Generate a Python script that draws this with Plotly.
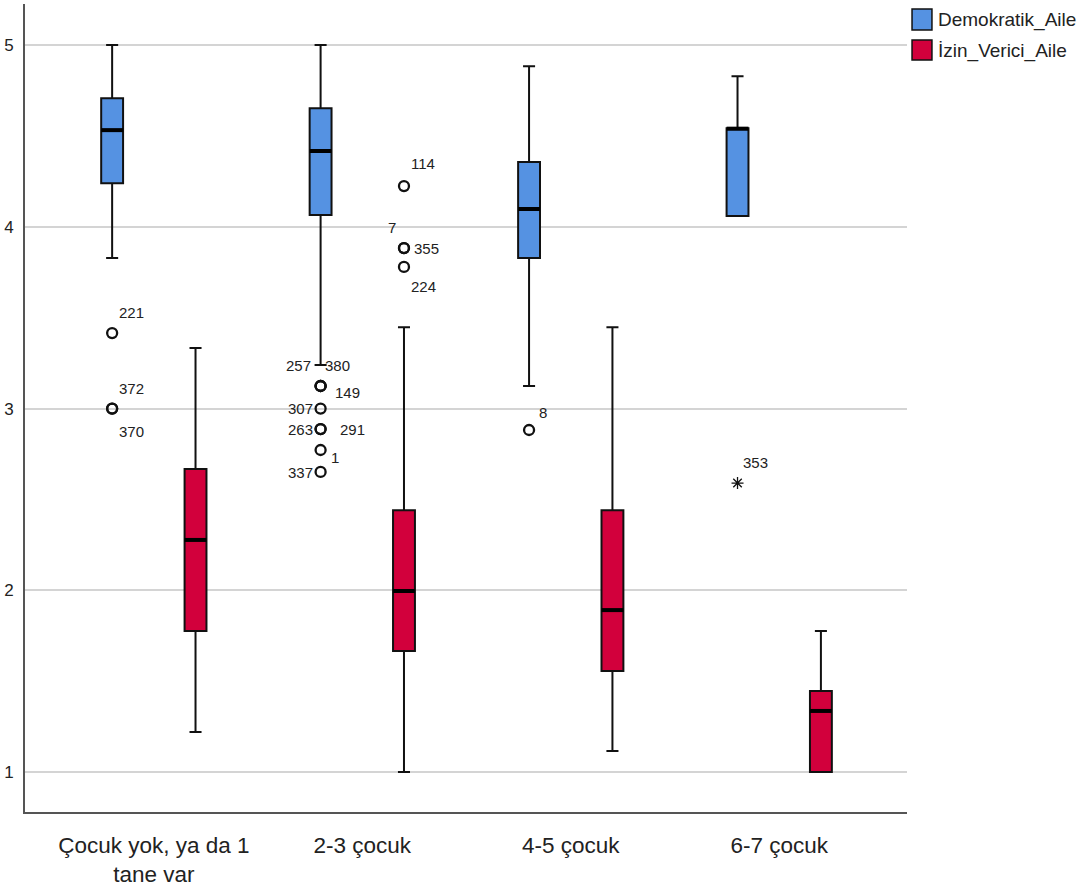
import plotly.graph_objects as go

# ---------------- data ----------------
categories = ["Çocuk yok, ya da 1 tane var", "2-3 çocuk", "4-5 çocuk", "6-7 çocuk"]
tick_labels = ["Çocuk yok, ya da 1<br>tane var", "2-3 çocuk", "4-5 çocuk", "6-7 çocuk"]
series_names = ["Demokratik_Aile", "İzin_Verici_Aile"]

demo_lower = [3.828, 3.239, 3.124, 4.059]
demo_q1 = [4.240, 4.065, 3.828, 4.059]
demo_median = [4.532, 4.417, 4.098, 4.540]
demo_q3 = [4.708, 4.653, 4.356, 4.543]
demo_upper = [5.000, 5.000, 4.884, 4.829]

izin_lower = [1.220, 1.000, 1.116, 1.000]
izin_q1 = [1.776, 1.666, 1.556, 1.000]
izin_median = [2.277, 1.996, 1.891, 1.336]
izin_q3 = [2.667, 2.441, 2.441, 1.446]
izin_upper = [3.333, 3.448, 3.448, 1.776]

# outlier cases (category index, value, case id, kind: o = outlier, * = extreme)
demo_out_cat = [0, 0, 0, 1, 1, 1, 1, 1, 1, 1, 1, 2, 3]
demo_out_val = [3.415, 3.0, 3.0, 3.124, 3.124, 3.124, 3.0, 2.887, 2.887, 2.772, 2.651, 2.882, 2.590]
demo_out_id = ["221", "372", "370", "257", "380", "149", "307", "263", "291", "1", "337", "8", "353"]
demo_out_kind = ["o", "o", "o", "o", "o", "o", "o", "o", "o", "o", "o", "o", "*"]

izin_out_cat = [1, 1, 1, 1]
izin_out_val = [4.224, 3.883, 3.883, 3.779]
izin_out_id = ["114", "7", "355", "224"]
izin_out_kind = ["o", "o", "o", "o"]

# ---------------- style ----------------
FONT = "Liberation Sans, Arial, sans-serif"
colors = ["#5592E2", "#D2003C"]
offsets = [-0.2, 0.2]
BOX_W = 0.105

# label placement (anchor, x shift px, y shift px) per case
demo_lbl_style = [("left", 5, 21), ("left", 5, 20), ("left", 5, -23),
                  ("right", -8, 21), ("left", 2, 21), ("left", 12, -6),
                  ("right", -6, 0), ("right", -6, 0), ("left", 17, 0),
                  ("left", 8, -8), ("right", -6, -1), ("left", 8, 17),
                  ("left", 3, 21)]
izin_lbl_style = [("left", 5, 23), ("right", -6, 21), ("left", 8, 0), ("left", 5, -20)]

series = [
    dict(lower=demo_lower, q1=demo_q1, med=demo_median, q3=demo_q3, upper=demo_upper,
         oc=demo_out_cat, ov=demo_out_val, oid=demo_out_id, ok=demo_out_kind, ls=demo_lbl_style),
    dict(lower=izin_lower, q1=izin_q1, med=izin_median, q3=izin_q3, upper=izin_upper,
         oc=izin_out_cat, ov=izin_out_val, oid=izin_out_id, ok=izin_out_kind, ls=izin_lbl_style),
]

fig = go.Figure()
annotations = []

for s_i, (name, s) in enumerate(zip(series_names, series)):
    xs = [i + offsets[s_i] for i in range(len(categories))]
    fig.add_trace(go.Box(
        x=xs, q1=s["q1"], median=s["med"], q3=s["q3"],
        lowerfence=s["lower"], upperfence=s["upper"],
        name=name, width=BOX_W, whiskerwidth=0.55,
        fillcolor=colors[s_i], line=dict(color="#111111", width=2),
        boxpoints=False, showlegend=False, hoverinfo="skip",
    ))
    # thick median bars
    mx, my = [], []
    for x, m in zip(xs, s["med"]):
        mx += [x - BOX_W / 2, x + BOX_W / 2, None]
        my += [m, m, None]
    fig.add_trace(go.Scatter(x=mx, y=my, mode="lines",
                             line=dict(color="#000000", width=4),
                             showlegend=False, hoverinfo="skip"))
    # outliers
    ox = [c + offsets[s_i] for c in s["oc"]]
    symbols = ["circle" if k == "o" else "asterisk-open" for k in s["ok"]]
    sizes = [10 if k == "o" else 10 for k in s["ok"]]
    mcolors = ["rgba(0,0,0,0)" if k == "o" else "#111111" for k in s["ok"]]
    lwidths = [2.3 if k == "o" else 1.3 for k in s["ok"]]
    fig.add_trace(go.Scatter(
        x=ox, y=s["ov"], mode="markers",
        marker=dict(symbol=symbols, size=sizes, color=mcolors, opacity=1,
                    line=dict(color="#111111", width=lwidths)),
        showlegend=False, hoverinfo="skip"))
    for x, v, lab, (anc, dx, dy) in zip(ox, s["ov"], s["oid"], s["ls"]):
        annotations.append(dict(x=x, y=v, xref="x", yref="y", text=lab,
                                showarrow=False, xanchor=anc, yanchor="middle",
                                xshift=dx, yshift=dy,
                                font=dict(family=FONT, size=15, color="#222222")))

# legend (drawn manually to match the reference swatches)
shapes = []
leg_y = [(0.9938, 0.9678, 0.9808), (0.9554, 0.9307, 0.9420)]
for s_i, name in enumerate(series_names):
    y0, y1, yt = leg_y[s_i]
    shapes.append(dict(type="rect", xref="paper", yref="paper",
                       x0=1.0057, x1=1.0283, y0=y1, y1=y0,
                       fillcolor=colors[s_i], line=dict(color="#111111", width=1.5)))
    annotations.append(dict(x=1.033, y=yt, xref="paper", yref="paper", text=name,
                            showarrow=False, xanchor="left", yanchor="middle",
                            font=dict(family=FONT, size=19, color="#222222")))

fig.update_layout(
    width=1080, height=896,
    margin=dict(l=25, r=173, t=4, b=84, autoexpand=False),
    paper_bgcolor="white", plot_bgcolor="white",
    font=dict(family=FONT, color="#222222"),
    showlegend=False,
    annotations=annotations, shapes=shapes,
    xaxis=dict(range=[-0.618, 3.613], tickmode="array",
               tickvals=list(range(len(categories))), ticktext=tick_labels,
               showgrid=False, zeroline=False, showline=True, automargin=False,
               linecolor="#555555", linewidth=2, ticks="",
               tickfont=dict(family=FONT, size=22.5, color="#222222"),
               ticklabelstandoff=12),
    yaxis=dict(range=[0.78, 5.226], tickvals=[1, 2, 3, 4, 5], automargin=False,
               showgrid=True, gridcolor="#D4D4D4", gridwidth=2,
               zeroline=False, showline=True, linecolor="#555555", linewidth=2,
               ticks="", tickfont=dict(family=FONT, size=17, color="#222222"),
               ticklabelstandoff=6),
)

fig.write_html("out.html",
               config={"displayModeBar": False},
               post_script="document.body.style.margin='0px';")
